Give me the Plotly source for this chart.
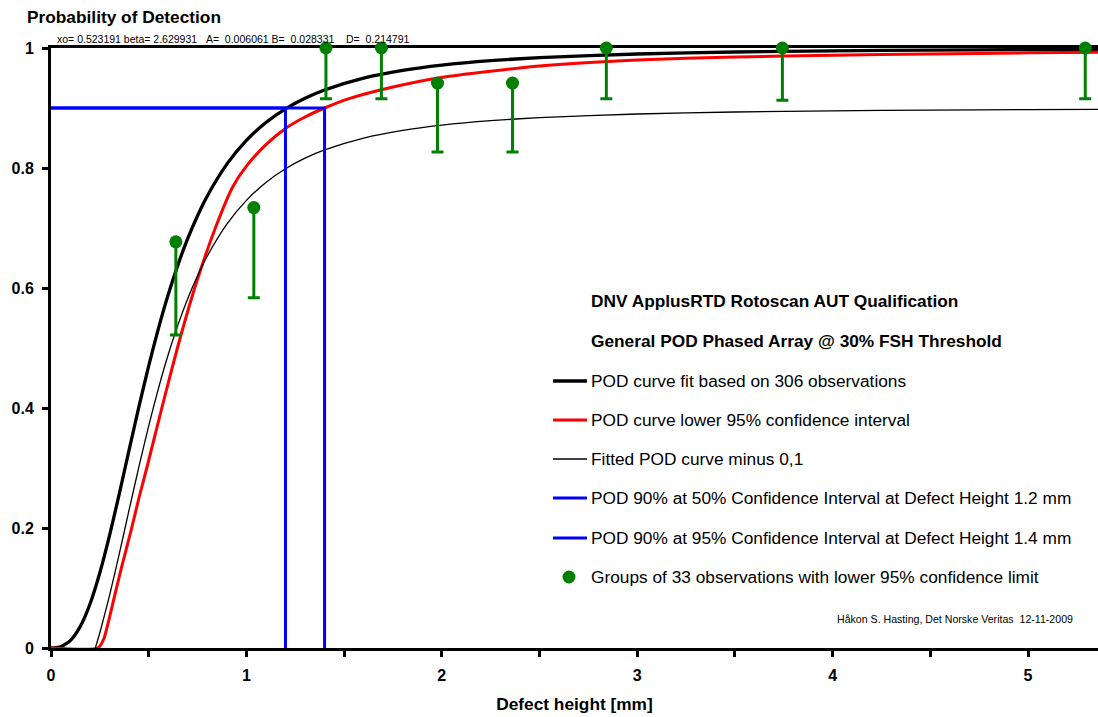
import plotly.graph_objects as go

# Fitted POD curve (xo = 0.523191, beta = 2.629931)
pod_x = [0, 0.05, 0.1, 0.15, 0.2, 0.25, 0.3, 0.35, 0.4, 0.45, 0.5, 0.55, 0.6, 0.65,
         0.7, 0.75, 0.8, 0.9, 1.0, 1.1, 1.2, 1.3, 1.4, 1.6, 1.8, 2.0, 2.25, 2.5,
         3.0, 3.5, 4.0, 4.5, 5.0, 5.4]
pod_y = [0, 0.0021, 0.0127, 0.036, 0.0738, 0.1254, 0.188, 0.2578, 0.3305, 0.4022,
         0.4702, 0.5328, 0.5891, 0.6390, 0.6826, 0.7205, 0.7534, 0.8064, 0.8460,
         0.8759, 0.8987, 0.9164, 0.9301, 0.9498, 0.9627, 0.9714, 0.9789, 0.9839,
         0.9900, 0.9933, 0.9953, 0.9965, 0.9974, 0.9979]

# Lower 95% confidence bound of the POD curve
low_x = [0, 0.24, 0.27, 0.3, 0.33, 0.36, 0.409, 0.45, 0.494, 0.571, 0.651, 0.745,
         0.847, 0.929, 1.0, 1.1, 1.2, 1.3, 1.4, 1.529, 1.75, 1.99, 2.5, 3.0, 3.5,
         4.0, 4.5, 5.0, 5.4]
low_y = [0, 0, 0.015, 0.052, 0.093, 0.133, 0.195, 0.25, 0.305, 0.405, 0.505, 0.61,
         0.705, 0.768, 0.803, 0.839, 0.866, 0.885, 0.90, 0.916, 0.935, 0.9505, 0.970,
         0.980, 0.985, 0.988, 0.990, 0.992, 0.993]

# Fitted POD curve minus 0,1
minus_x = [0.227, 0.25, 0.3, 0.35, 0.4, 0.45, 0.5, 0.55, 0.6, 0.65, 0.7, 0.75, 0.8,
           0.9, 1.0, 1.1, 1.2, 1.3, 1.4, 1.6, 1.8, 2.0, 2.25, 2.5, 3.0, 3.5, 4.0,
           4.5, 5.0, 5.4]
minus_y = [0, 0.0254, 0.088, 0.1578, 0.2305, 0.3022, 0.3702, 0.4328, 0.4891, 0.539,
           0.5826, 0.6205, 0.6534, 0.7064, 0.746, 0.7759, 0.7987, 0.8164, 0.8301,
           0.8498, 0.8627, 0.8714, 0.8789, 0.8839, 0.89, 0.8933, 0.8953, 0.8965,
           0.8974, 0.8979]

# Groups of 33 observations: hit rate and lower 95% confidence limit
grp_x = [0.639, 1.038, 1.407, 1.691, 1.978, 2.362, 2.842, 3.743, 5.293]
grp_y = [0.677, 0.734, 1.0, 1.0, 0.9415, 0.9415, 1.0, 1.0, 1.0]
grp_low = [0.5216, 0.5837, 0.9156, 0.9156, 0.8267, 0.8267, 0.9156, 0.9128, 0.9156]

# POD 90% crossings
pod90 = 0.9
height_50 = 1.2
height_95 = 1.4

FONT = "Liberation Sans, Arial, sans-serif"
GREEN = "#008000"
BLUE = "#0000FF"
RED = "#FF0000"
LEGEND_SIZE = 17.3
SMALL_SIZE = 10.6

fig = go.Figure()

fig.add_trace(go.Scatter(x=pod_x, y=pod_y, mode="lines",
                         line=dict(color="black", width=3.3, shape="spline", smoothing=0.6)))
fig.add_trace(go.Scatter(x=low_x, y=low_y, mode="lines",
                         line=dict(color=RED, width=3, shape="spline", smoothing=0.6)))
fig.add_trace(go.Scatter(x=minus_x, y=minus_y, mode="lines",
                         line=dict(color="black", width=1.3, shape="spline", smoothing=0.6)))
for h in (height_50, height_95):
    fig.add_trace(go.Scatter(x=[0, h, h], y=[pod90, pod90, 0], mode="lines",
                             line=dict(color=BLUE, width=3)))
fig.add_trace(go.Scatter(
    x=grp_x, y=grp_y, mode="markers",
    marker=dict(color=GREEN, size=13),
    error_y=dict(type="data", symmetric=False,
                 array=[0] * len(grp_y),
                 arrayminus=[y - l for y, l in zip(grp_y, grp_low)],
                 color=GREEN, thickness=3, width=6),
    cliponaxis=False))

W, H = 1098, 717
ML, MR, MT, MB = 51, 0, 48, 69
PW, PH = W - ML - MR, H - MT - MB


def px(xp):
    return (xp - ML) / PW


def py(yp):
    return (H - MB - yp) / PH


annotations = [
    dict(text="<b>Probability of Detection</b>", x=px(25), y=py(17),
         xanchor="left", yanchor="middle", font=dict(size=17.3)),
    dict(text="xo= 0.523191 beta= 2.629931\u00a0\u00a0\u00a0A=\u00a0\u00a00.006061 "
              "B=\u00a0\u00a00.028331\u00a0\u00a0\u00a0\u00a0D=\u00a0\u00a00.214791",
         x=px(55), y=py(39), xanchor="left", yanchor="middle", font=dict(size=10.5)),
    dict(text="Håkon S. Hasting, Det Norske Veritas\u00a0\u00a012-11-2009",
         x=px(1075), y=py(619), xanchor="right", yanchor="middle",
         font=dict(size=SMALL_SIZE)),
]

legend_titles = [
    ("<b>DNV ApplusRTD Rotoscan AUT Qualification</b>", 301),
    ("<b>General POD Phased Array @ 30% FSH Threshold</b>", 341),
]
legend_rows = [
    ("POD curve fit based on 306 observations", 381, "black", 3.3),
    ("POD curve lower 95% confidence interval", 420, RED, 3),
    ("Fitted POD curve minus 0,1", 459, "black", 1.3),
    ("POD 90% at 50% Confidence Interval at Defect Height 1.2 mm", 498, BLUE, 3),
    ("POD 90% at 95% Confidence Interval at Defect Height 1.4 mm", 538, BLUE, 3),
]
dot_row = ("Groups of 33 observations with lower 95% confidence limit", 577)

for text, yp in legend_titles:
    annotations.append(dict(text=text, x=px(589), y=py(yp), xanchor="left",
                            yanchor="middle", font=dict(size=LEGEND_SIZE)))

shapes = []
for text, yp, color, lw in legend_rows:
    annotations.append(dict(text=text, x=px(589), y=py(yp), xanchor="left",
                            yanchor="middle", font=dict(size=LEGEND_SIZE)))
    shapes.append(dict(type="line", xref="paper", yref="paper",
                       x0=px(553), x1=px(587), y0=py(yp), y1=py(yp),
                       line=dict(color=color, width=lw)))

annotations.append(dict(text=dot_row[0], x=px(589), y=py(dot_row[1]), xanchor="left",
                        yanchor="middle", font=dict(size=LEGEND_SIZE)))
shapes.append(dict(type="circle", xref="paper", yref="paper",
                   xsizemode="pixel", ysizemode="pixel",
                   xanchor=px(569), yanchor=py(dot_row[1]),
                   x0=-6.5, x1=6.5, y0=-6.5, y1=6.5,
                   fillcolor=GREEN, line=dict(width=0)))

for a in annotations:
    a.update(xref="paper", yref="paper", showarrow=False)
    a["font"].update(family=FONT, color="black")

axis_common = dict(
    showline=True, linewidth=3, linecolor="black",
    ticks="outside", ticklen=6, tickwidth=3, tickcolor="black",
    showgrid=False, zeroline=False, layer="below traces",
    tickfont=dict(family=FONT, size=16, color="black", weight="bold"),
)

fig.update_layout(
    width=W, height=H,
    margin=dict(l=ML, r=MR, t=MT, b=MB, autoexpand=False),
    paper_bgcolor="white", plot_bgcolor="white",
    showlegend=False,
    font=dict(family=FONT, color="black"),
    xaxis=dict(range=[0, (W - ML) / 195.4], tick0=0, dtick=1, mirror=True,
               minor=dict(dtick=0.5, ticks="outside", ticklen=6, tickwidth=3,
                          tickcolor="black"),
               ticklabelstandoff=5,
               title=dict(text="<b>Defect height [mm]</b>", standoff=15,
                          font=dict(family=FONT, size=17.3, color="black")),
               **axis_common),
    yaxis=dict(range=[0, 1], tick0=0, dtick=0.2, ticklabelstandoff=5, **axis_common),
    annotations=annotations,
    shapes=shapes,
)

fig.write_html("out.html")
